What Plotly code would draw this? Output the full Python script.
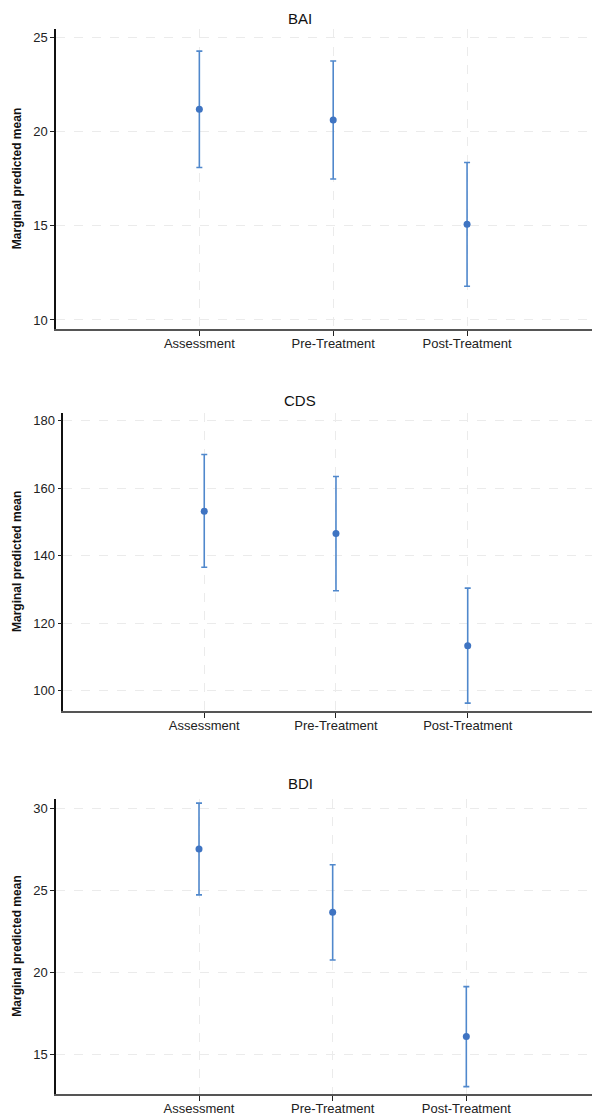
import plotly.graph_objects as go

categories = ["Assessment", "Pre-Treatment", "Post-Treatment"]

bai_mean = [21.18, 20.61, 15.08]
bai_low = [18.09, 17.48, 11.79]
bai_high = [24.26, 23.74, 18.35]

cds_mean = [153.2, 146.6, 113.3]
cds_low = [136.6, 129.6, 96.3]
cds_high = [170.0, 163.5, 130.4]

bdi_mean = [27.54, 23.68, 16.08]
bdi_low = [24.74, 20.76, 13.02]
bdi_high = [30.35, 26.58, 19.13]

panel_titles = ["BAI", "CDS", "BDI"]
y_ticks = [[10, 15, 20, 25], [100, 120, 140, 160, 180], [15, 20, 25, 30]]
y_ranges = [[9.52, 25.42], [93.98, 182.3], [12.55, 30.6]]

W, H = 600, 1117
OFF = 8  # page body margin
# panel pixel boxes in page coordinates: (left, top, bottom)
boxes = [(56, 29.3, 329), (63.3, 413, 711), (56, 799, 1094.3)]
x_ranges = [[-1.071, 3.053], [-1.07, 3.065], [-1.07, 3.06]]
title_y = [15, 400, 784]

data = [(bai_mean, bai_low, bai_high), (cds_mean, cds_low, cds_high), (bdi_mean, bdi_low, bdi_high)]

FONT = "Liberation Sans, Arial, sans-serif"
BLUE = "#3f74c2"
EBLUE = "#5088cc"

fig = go.Figure()
annotations = []
for i, (m, lo, hi) in enumerate(data):
    n = "" if i == 0 else str(i + 1)
    xs = list(range(len(categories)))
    fig.add_trace(go.Scatter(
        x=xs, y=m, mode="markers",
        marker=dict(color=BLUE, size=7),
        error_y=dict(type="data", symmetric=False,
                     array=[h - v for h, v in zip(hi, m)],
                     arrayminus=[v - l for v, l in zip(m, lo)],
                     color=EBLUE, thickness=1.6, width=3),
        xaxis="x" + n, yaxis="y" + n, showlegend=False,
    ))
    left, top, bottom = boxes[i]
    left, top, bottom = left - OFF, top - OFF, bottom - OFF
    fig.layout["xaxis" + n] = dict(
        domain=[left / W, 1], range=x_ranges[i], anchor="y" + n,
        tickvals=xs, ticktext=categories, ticks="outside", ticklen=5, tickcolor="#222",
        ticklabelstandoff=-4,
        showgrid=True, gridcolor="#ebebeb", griddash="dash", gridwidth=1,
        showline=True, linecolor="#555", linewidth=2, zeroline=False,
        tickfont=dict(family=FONT, size=13, color="#222"), fixedrange=True,
    )
    fig.layout["yaxis" + n] = dict(
        domain=[1 - bottom / H, 1 - top / H], range=y_ranges[i], anchor="x" + n,
        tickvals=y_ticks[i], ticks="outside", ticklen=4, tickcolor="#222",
        showgrid=True, gridcolor="#ebebeb", griddash="dash", gridwidth=1,
        showline=True, linecolor="#111", linewidth=1.5, zeroline=False,
        tickfont=dict(family=FONT, size=13, color="#222"), fixedrange=True,
    )
    ty = title_y[i] - OFF
    if i == 0:
        title_ann = dict(y=1.0, yanchor="top")
    else:
        title_ann = dict(y=1 - ty / H, yanchor="middle")
    annotations.append(dict(
        text=panel_titles[i], x=(300 - OFF) / W,
        xref="paper", yref="paper",
        xanchor="center", showarrow=False,
        font=dict(family=FONT, size=15, color="#111"),
        **title_ann,
    ))
    annotations.append(dict(
        text="<b>Marginal predicted mean</b>", x=(17 - OFF) / W,
        y=1 - ((top + bottom) / 2) / H,
        xref="paper", yref="paper", xanchor="center", yanchor="middle",
        textangle=-90, showarrow=False,
        font=dict(family=FONT, size=12, color="#111"),
    ))

fig.update_layout(
    width=W, height=H, margin=dict(l=0, r=0, t=0, b=0),
    paper_bgcolor="white", plot_bgcolor="white",
    annotations=annotations,
)
fig.write_html("out.html")
